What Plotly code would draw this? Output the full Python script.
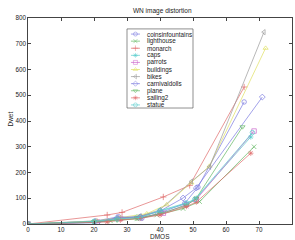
import plotly.graph_objects as go

names = ["coinsinfountains", "lighthouse", "monarch", "caps", "parrots", "buildings",
         "bikes", "carnivaldolls", "plane", "sailing2", "statue"]

x_coins = [0, 20.5, 27.5, 34.5, 40.5, 47.5, 51.5, 65.5]
y_coins = [0, 12, 28, 22, 45, 80, 143, 474]
x_light = [0, 20, 25, 33, 39, 47, 52, 68.5]
y_light = [0, 6, 12, 20, 35, 60, 87, 300]
x_mon = [0, 24, 28.5, 41, 49, 65.5]
y_mon = [0, 35, 45, 105, 150, 532]
x_caps = [0, 20, 27, 33, 40, 48, 51, 67.5]
y_caps = [0, 10, 18, 28, 50, 78, 100, 338]
x_parr = [0, 21, 28, 34, 41, 48, 51, 68.5]
y_parr = [0, 8, 22, 25, 42, 75, 95, 361]
x_build = [0, 21, 28, 36, 42, 49.5, 55, 72]
y_build = [0, 12, 25, 40, 75, 160, 225, 683]
x_bikes = [0, 20, 27, 34, 40, 49.5, 55, 71.5]
y_bikes = [0, 10, 22, 30, 55, 165, 222, 745]
x_carn = [0, 21, 27, 34, 40, 47, 51, 71]
y_carn = [0, 5, 25, 28, 50, 101, 140, 493]
x_plane = [0, 20, 27, 33, 40, 48, 51, 65]
y_plane = [0, 8, 15, 22, 40, 72, 100, 377]
x_sail = [0, 24, 28, 34, 40, 48, 51, 67.5]
y_sail = [0, 8, 15, 22, 35, 68, 85, 275]
x_stat = [0, 20, 27, 34, 40, 48, 50.5, 68]
y_stat = [0, 10, 20, 25, 52, 82, 95, 355]

xs = [x_coins, x_light, x_mon, x_caps, x_parr, x_build, x_bikes, x_carn, x_plane, x_sail, x_stat]
ys = [y_coins, y_light, y_mon, y_caps, y_parr, y_build, y_bikes, y_carn, y_plane, y_sail, y_stat]

colors = ["#7a7ae0", "#62b862", "#e06a6a", "#55cccc", "#cc66cc", "#e0e060", "#999999",
          "#7a7ae0", "#62b862", "#e06a6a", "#55cccc"]
symbols = ["circle-open", "x-thin-open", "cross-thin-open", "asterisk-open", "square-open",
           "triangle-up-open", "triangle-left-open", "diamond-open", "triangle-down-open",
           "asterisk-open", "circle-open"]

fig = go.Figure()
for n, x, y, c, s in zip(names, xs, ys, colors, symbols):
    fig.add_trace(go.Scatter(x=x, y=y, name=n, mode="lines+markers", showlegend=False,
                             line=dict(color=c, width=0.7),
                             marker=dict(symbol=s, size=4.5, color=c, line=dict(color=c, width=0.7))))

# compact legend (MATLAB style) drawn on an overlay unit axis
lx0, lx1, ly0, ly1 = 0.375, 0.625, 0.563, 0.947
fig.add_shape(type="rect", xref="paper", yref="paper", x0=lx0, x1=lx1, y0=ly0, y1=ly1,
              line=dict(color="#444444", width=0.6), fillcolor="white", layer="below")
y_first, y_last = 0.922, 0.578
step = (y_first - y_last) / (len(names) - 1)
for i, (n, c, s) in enumerate(zip(names, colors, symbols)):
    yy = y_first - i * step
    fig.add_trace(go.Scatter(x=[0.39, 0.407, 0.424], y=[yy, yy, yy], mode="lines+markers",
                             xaxis="x2", yaxis="y2", showlegend=False, hoverinfo="skip",
                             line=dict(color=c, width=0.7),
                             marker=dict(symbol=s, size=[0, 4, 0], color=c,
                                         line=dict(color=c, width=0.7))))
    fig.add_annotation(text=n, xref="paper", yref="paper", x=0.443, y=yy, xanchor="left",
                       yanchor="middle", showarrow=False, font=dict(size=6.3, color="#222222"))

fig.add_annotation(text="DMOS", xref="paper", yref="paper", x=0.5, y=-0.063, xanchor="center",
                   yanchor="middle", showarrow=False, font=dict(size=6.5, color="#222222"))
fig.add_annotation(text="Dwet", xref="paper", yref="paper", x=-0.066, y=0.51, xanchor="center",
                   yanchor="middle", textangle=-90, showarrow=False, font=dict(size=6.5, color="#222222"))

fig.update_layout(
    template="none",
    width=295, height=240,
    margin=dict(l=28, r=3, t=18, b=16),
    paper_bgcolor="white", plot_bgcolor="white",
    font=dict(family="Liberation Sans, Arial", size=6.3, color="#222222"),
    title=dict(text="WN image distortion", x=0.55, xanchor="center", y=0.955, yanchor="middle",
               font=dict(size=6.5)),
    showlegend=False,
    xaxis=dict(range=[0, 80], dtick=10, ticks="inside", ticklen=3, showline=True, linecolor="#444444",
               linewidth=0.6, mirror="ticks", showgrid=False, zeroline=False, automargin=False,
               tickfont=dict(size=6.3), tickcolor="#444444"),
    yaxis=dict(range=[0, 800], dtick=100, ticks="inside", ticklen=3, showline=True, linecolor="#444444",
               linewidth=0.6, mirror="ticks", showgrid=False, zeroline=False, automargin=False,
               tickfont=dict(size=6.3), tickcolor="#444444"),
    xaxis2=dict(range=[0, 1], overlaying="x", visible=False, fixedrange=True),
    yaxis2=dict(range=[0, 1], overlaying="y", visible=False, fixedrange=True),
)

fig.write_html("out.html", config={"displayModeBar": False},
               post_script="document.body.style.margin='0';document.body.style.overflow='hidden';")
